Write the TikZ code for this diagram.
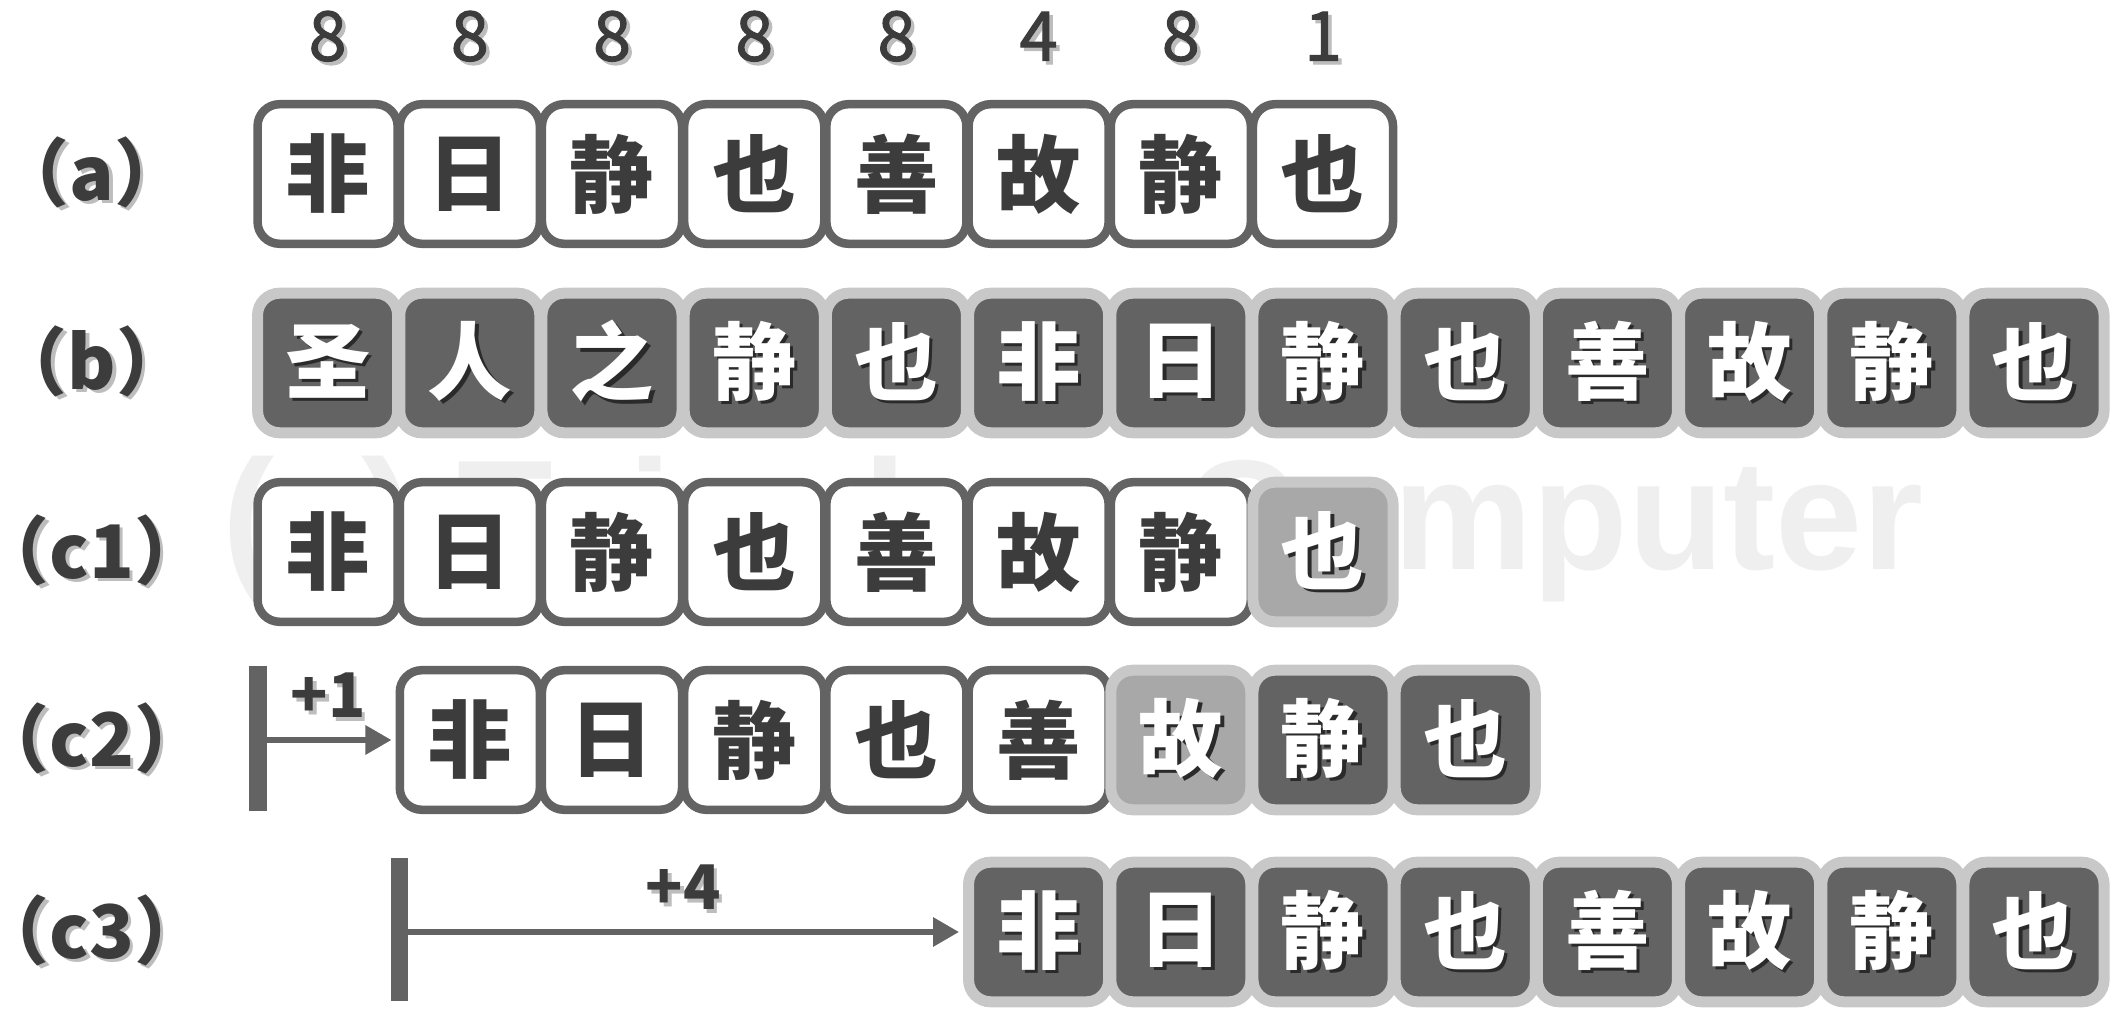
\documentclass[tikz,border=0pt]{standalone}
\usepackage{fontspec}
\newfontfamily\cjk{Noto Sans CJK SC}
\newfontfamily\cjknum[FakeBold=1.5]{Noto Sans CJK SC}
\newfontfamily\wmfont{Liberation Sans}
\usetikzlibrary{arrows.meta}
\definecolor{ink}{HTML}{3C3C3C}
\definecolor{frame}{HTML}{636363}
\definecolor{ring}{HTML}{C8C8C8}
\definecolor{mid}{HTML}{A8A8A8}
\definecolor{lsh}{HTML}{BDBDBD}
\definecolor{dsh}{HTML}{2A2A2A}
\definecolor{wm}{HTML}{EFEFEF}
\newcommand\shl[1]{\makebox[0pt][l]{\kern0.035cm\raisebox{-0.035cm}{\color{lsh}#1}}#1}
\newcommand\shd[1]{\makebox[0pt][l]{\kern0.035cm\raisebox{-0.035cm}{\color{dsh}#1}}#1}
\tikzset{
  cell/.style={rounded corners=0.22cm, minimum width=1.40cm, minimum height=1.395cm,
    inner sep=0pt, font=\cjk\bfseries\fontsize{24pt}{24pt}\selectfont},
  wcell/.style={cell, fill=white, draw=frame, line width=0.085cm, text=ink},
  dcell/.style={cell, fill=frame, draw=ring, line width=0.11cm, text=white},
  mcell/.style={cell, fill=mid, draw=ring, line width=0.11cm, text=white},
  rowlabel/.style={inner sep=0pt, text=ink, font=\cjk\bfseries\fontsize{21pt}{21pt}\selectfont},
  numlabel/.style={inner sep=0pt, text=ink, font=\cjknum\fontsize{19.5pt}{19.5pt}\selectfont},
  shiftlabel/.style={inner sep=0pt, text=ink, font=\cjk\bfseries\fontsize{17.5pt}{17.5pt}\selectfont},
  bar/.style={draw=frame, line width=0.17cm},
  arr/.style={draw=frame, line width=0.06cm, -{Triangle[length=0.26cm,width=0.28cm]}, shorten >=0.04cm},
  watermark/.style={inner sep=0pt, text=wm,
    font=\wmfont\bfseries\fontsize{44.5pt}{44.5pt}\selectfont}
}
\begin{document}
\begin{tikzpicture}[x=0.01cm, y=-0.01cm]
\useasboundingbox (0,0) rectangle (2128,1016);
% watermark (behind everything)
\node[watermark, anchor=base west] (wmark) at (222,570) {(c) Tsinghua Computer};
% top numbers
\foreach \n [count=\i] in {8,8,8,8,8,4,8,1}
  \node[numlabel] (n\i) at ({327.6+142.2*(\i-1)},38) {\shl{\n}};
% row labels
\node[rowlabel] (la)  at (92,174) {\shl{（a）}};
\node[rowlabel] (lb)  at (92,363) {\shl{（b）}};
\node[rowlabel] (lc1) at (92,552) {\shl{（c1）}};
\node[rowlabel] (lc2) at (92,740) {\shl{（c2）}};
\node[rowlabel] (lc3) at (92,932) {\shl{（c3）}};
% row (a)
\foreach \c [count=\i] in {非,日,静,也,善,故,静,也}
  \node[wcell] (a\i) at ({327.6+142.2*(\i-1)},174) {\c};
% row (b)
\foreach \c [count=\i] in {圣,人,之,静,也,非,日,静,也,善,故,静,也}
  \node[dcell] (b\i) at ({327.6+142.2*(\i-1)},363) {\shd{\c}};
% row (c1)
\foreach \c [count=\i] in {非,日,静,也,善,故,静}
  \node[wcell] (ca\i) at ({327.6+142.2*(\i-1)},552) {\c};
\node[mcell] (ca8) at ({327.6+142.2*7},552) {\shd{也}};
% row (c2)
\foreach \c [count=\i] in {非,日,静,也,善}
  \node[wcell] (cb\i) at ({327.6+142.2*\i},740) {\c};
\node[mcell] (cb6) at ({327.6+142.2*6},740) {\shd{故}};
\node[dcell] (cb7) at ({327.6+142.2*7},740) {\shd{静}};
\node[dcell] (cb8) at ({327.6+142.2*8},740) {\shd{也}};
% row (c3)
\foreach \c [count=\i] in {非,日,静,也,善,故,静,也}
  \node[dcell] (cc\i) at ({327.6+142.2*(\i+4)},932) {\shd{\c}};
% shift markers
\draw[bar] (258,666) -- (258,811);
\coordinate (s2) at (258,740);
\draw[arr] (s2) -- (cb1.west);
\node[shiftlabel] (p1) at (328,697) {\shl{+1}};
\draw[bar] (399,858) -- (399,1001);
\coordinate (s3) at (399,932);
\draw[arr] (s3) -- (cc1.west);
\node[shiftlabel] (p4) at (683,889) {\shl{+4}};
\end{tikzpicture}
\end{document}
